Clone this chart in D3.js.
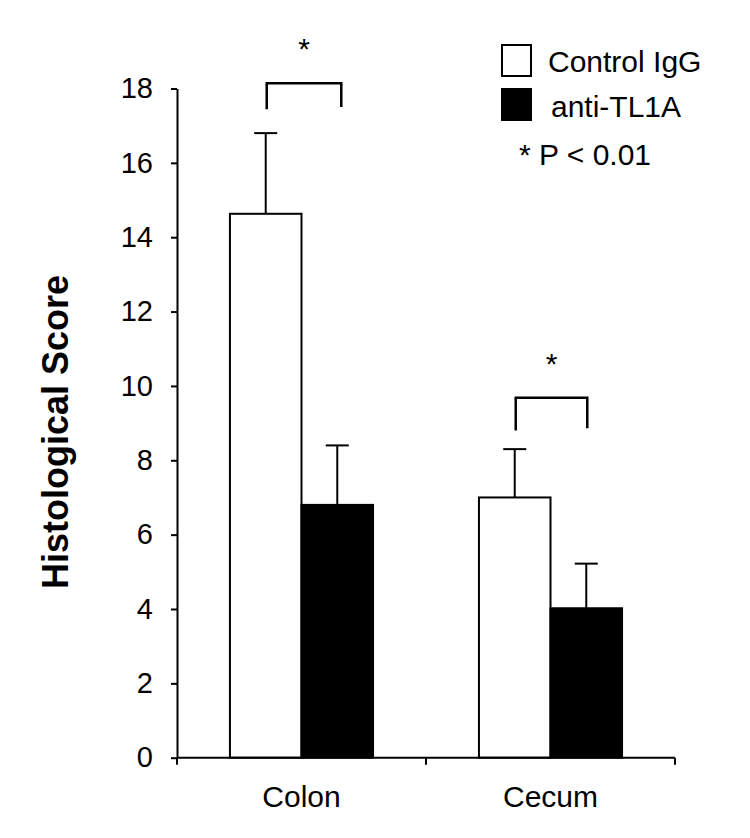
<!DOCTYPE html>
<html>
<head>
<meta charset="utf-8">
<script src="https://cdn.jsdelivr.net/npm/d3@7"></script>
<style>
  html, body { margin: 0; padding: 0; background: #fff; }
  svg { display: block; }
  text { font-family: "Liberation Sans", Arial, sans-serif; fill: #000; }
</style>
</head>
<body>
<svg id="chart" width="750" height="838"></svg>
<script>
// ---- data ----
const categories = ["Colon", "Cecum"];
const seriesNames = ["Control IgG", "anti-TL1A"];
const seriesFills = ["#ffffff", "#000000"];
const controlValues = [14.63, 7.0];
const controlErrorTops = [16.8, 8.3];
const antiValues = [6.8, 4.02];
const antiErrorTops = [8.4, 5.22];
const yTicks = [0, 2, 4, 6, 8, 10, 12, 14, 16, 18];
// significance brackets: [top level, left foot, right foot]
const bracketTop = [18.14, 9.68];
const bracketFootLeft = [17.44, 8.8];
const bracketFootRight = [17.5, 8.86];
const starLevel = [18.8, 10.32];
const yTitle = "Histological Score";
const pNote = "* P < 0.01";

const svg = d3.select("#chart");

const y = d3.scaleLinear().domain([0, 18]).range([757.7, 88.5]);
const x0 = d3.scaleBand().domain(categories).range([177, 675]).paddingInner(0).paddingOuter(0);
const x1 = d3.scaleBand().domain(seriesNames).range([0, x0.bandwidth()]).paddingInner(0).paddingOuter(0.74);

const rows = [];
categories.forEach((c, i) => {
  rows.push({cat: c, s: seriesNames[0], v: controlValues[i], e: controlErrorTops[i], fill: seriesFills[0]});
  rows.push({cat: c, s: seriesNames[1], v: antiValues[i], e: antiErrorTops[i], fill: seriesFills[1]});
});
const cx = d => x0(d.cat) + x1(d.s) + x1.bandwidth() / 2;

// error bars (drawn behind bars)
const eb = svg.append("g").attr("stroke", "#000").attr("stroke-width", 2);
eb.selectAll("line.v").data(rows).join("line")
  .attr("x1", cx).attr("x2", cx)
  .attr("y1", d => y(d.v)).attr("y2", d => y(d.e));
eb.selectAll("line.c").data(rows).join("line")
  .attr("x1", d => cx(d) - 11.5).attr("x2", d => cx(d) + 11.5)
  .attr("y1", d => y(d.e)).attr("y2", d => y(d.e));

// bars
svg.append("g").selectAll("rect").data(rows).join("rect")
  .attr("x", d => x0(d.cat) + x1(d.s))
  .attr("width", x1.bandwidth())
  .attr("y", d => y(d.v))
  .attr("height", d => y(0) - y(d.v))
  .attr("fill", d => d.fill)
  .attr("stroke", "#000")
  .attr("stroke-width", 2);

// y axis
const yAxis = svg.append("g")
  .attr("transform", `translate(${x0.range()[0]},0)`)
  .call(d3.axisLeft(y).tickValues(yTicks).tickSize(6).tickPadding(18).tickSizeOuter(0));
yAxis.select(".domain").attr("stroke-width", 2);
yAxis.selectAll(".tick line").attr("stroke-width", 2);
yAxis.selectAll(".tick text")
  .style("font-family", "'Liberation Sans', Arial, sans-serif")
  .style("font-size", "29px").attr("fill", "#000");

// x axis
const xa = svg.append("g");
xa.append("line")
  .attr("x1", x0.range()[0]).attr("x2", x0.range()[1])
  .attr("y1", y(0)).attr("y2", y(0))
  .attr("stroke", "#000").attr("stroke-width", 2);
const edges = [x0(categories[0])].concat(categories.map(c => x0(c) + x0.bandwidth()));
xa.selectAll("line.t").data(edges).join("line")
  .attr("x1", d => d).attr("x2", d => d)
  .attr("y1", y(0)).attr("y2", y(0) + 7)
  .attr("stroke", "#000").attr("stroke-width", 2);
xa.selectAll("text").data(categories).join("text")
  .attr("x", d => x0(d) + x0.bandwidth() / 2)
  .attr("y", y(0) + 49)
  .attr("text-anchor", "middle")
  .style("font-size", "30px")
  .text(d => d);

// y title
svg.append("text")
  .attr("transform", `translate(68,432) rotate(-90)`)
  .attr("text-anchor", "middle")
  .style("font-size", "36px").style("font-weight", "bold")
  .text(yTitle);

// significance brackets
const br = svg.append("g").attr("fill", "none").attr("stroke", "#000").attr("stroke-width", 2.5);
categories.forEach((c, i) => {
  const xl = x0(c) + x1(seriesNames[0]) + x1.bandwidth() / 2 + 1;
  const xr = x0(c) + x1(seriesNames[1]) + x1.bandwidth() / 2 + (i === 0 ? 4 : 1);
  br.append("path")
    .attr("d", `M${xl},${y(bracketFootLeft[i])}V${y(bracketTop[i])}H${xr}V${y(bracketFootRight[i])}`);
  svg.append("text")
    .attr("x", (xl + xr) / 2)
    .attr("y", y(starLevel[i]))
    .attr("text-anchor", "middle")
    .style("font-size", "30px")
    .text("*");
});

// legend
const lg = svg.append("g");
seriesNames.forEach((s, i) => {
  lg.append("rect")
    .attr("x", 502).attr("y", 45 + i * 44)
    .attr("width", 29).attr("height", 31)
    .attr("fill", seriesFills[i]).attr("stroke", "#000").attr("stroke-width", 2);
  lg.append("text")
    .attr("x", 548 + i * 3).attr("y", 72 + i * 45)
    .style("font-size", "30px")
    .text(s);
});
lg.append("text")
  .attr("x", 519).attr("y", 165)
  .style("font-size", "30px")
  .text(pNote);
</script>
</body>
</html>
